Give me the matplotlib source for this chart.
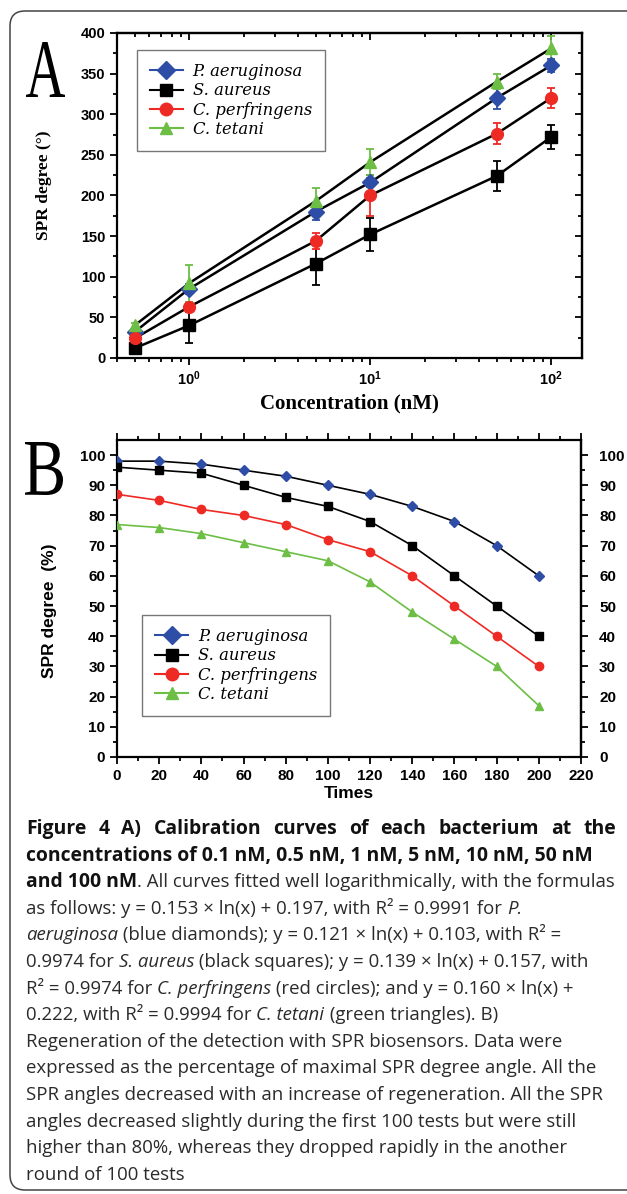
import numpy as np
import matplotlib
matplotlib.use("Agg")
import matplotlib.pyplot as plt
from matplotlib.lines import Line2D
from matplotlib.patches import FancyBboxPatch, PathPatch
from matplotlib.textpath import TextPath
from matplotlib.font_manager import FontProperties
from matplotlib.ticker import MultipleLocator, LogLocator, NullFormatter, FixedLocator, FixedFormatter
from matplotlib.transforms import Affine2D

# ---------------- data ----------------
species = ["P. aeruginosa", "S. aureus", "C. perfringens", "C. tetani"]
colors = ["#2E4DA6", "#000000", "#EE2A24", "#6CBE45"]
markers = ["D", "s", "o", "^"]

# Panel A: calibration curves
conc_nM = [0.5, 1, 5, 10, 50, 100]
spr_pa = [32, 85, 180, 216, 320, 360]
spr_sa = [12, 40, 116, 152, 224, 272]
spr_cp = [24, 63, 144, 200, 276, 320]
spr_ct = [40, 92, 193, 241, 340, 381]
err_pa = [3, 6, 10, 5, 14, 8]
err_sa = [3, 21, 26, 20, 18, 15]
err_cp = [3, 6, 10, 25, 13, 12]
err_ct = [3, 23, 16, 16, 9, 15]

# Panel B: regeneration
times = [0, 20, 40, 60, 80, 100, 120, 140, 160, 180, 200]
pct_pa = [98, 98, 97, 95, 93, 90, 87, 83, 78, 70, 60]
pct_sa = [96, 95, 94, 90, 86, 83, 78, 70, 60, 50, 40]
pct_cp = [87, 85, 82, 80, 77, 72, 68, 60, 50, 40, 30]
pct_ct = [77, 76, 74, 71, 68, 65, 58, 48, 39, 30, 17]
line_colors_B = ["#000000", "#000000", "#EE2A24", "#6CBE45"]

W, H = 627, 1194
DPI = 100
plt.rcParams['mathtext.fontset'] = 'custom'
plt.rcParams['mathtext.rm'] = 'Liberation Sans:bold'
plt.rcParams['mathtext.bf'] = 'Liberation Sans:bold'
plt.rcParams['mathtext.default'] = 'rm'

fig = plt.figure(figsize=(W / DPI, H / DPI), dpi=DPI)

def axrect(l, t, r, b):
    return [l / W, 1 - b / H, (r - l) / W, (b - t) / H]

legend_fp = FontProperties(family="DejaVu Serif", style="italic", size=11.8)
leg_kw = dict(borderaxespad=0, prop=legend_fp, frameon=True, fancybox=False,
              edgecolor="#555555", handlelength=2.0, handletextpad=0.6,
              labelspacing=0.14, borderpad=0.8)

def bold_sans(labels):
    for lab in labels:
        lab.set_fontfamily("Liberation Sans")
        lab.set_fontweight("bold")

# ---------------- Panel A ----------------
axA = fig.add_axes(axrect(117, 33, 582, 358))
axA.set_xscale("log")
A_vals = [spr_pa, spr_sa, spr_cp, spr_ct]
A_errs = [err_pa, err_sa, err_cp, err_ct]
msA = [8, 8, 8.5, 8.5]
for vals in A_vals:
    axA.plot(conc_nM, vals, color="black", lw=1.8, zorder=2)
for vals, errs, c in zip(A_vals, A_errs, colors):
    axA.errorbar(conc_nM, vals, yerr=errs, fmt="none", ecolor=c, elinewidth=1.3,
                 capsize=3, capthick=1.3, zorder=3)
for vals, c, m, ms in zip(A_vals, colors, markers, msA):
    axA.plot(conc_nM, vals, ls="none", marker=m, color=c, ms=ms, mec=c, zorder=4)
axA.set_xlim(0.4, 148)
axA.set_ylim(0, 400)
axA.yaxis.set_major_locator(MultipleLocator(50))
axA.yaxis.set_minor_locator(MultipleLocator(25))
axA.xaxis.set_major_locator(FixedLocator([1, 10, 100]))
axA.xaxis.set_major_formatter(FixedFormatter([r"$10^{0}$", r"$10^{1}$", r"$10^{2}$"]))
axA.xaxis.set_minor_locator(LogLocator(base=10, subs=np.arange(2, 10), numticks=20))
axA.xaxis.set_minor_formatter(NullFormatter())
axA.tick_params(which="both", direction="out", width=1.3, labelsize=10.5)
axA.tick_params(which="major", length=5)
axA.tick_params(which="minor", length=3)
bold_sans(axA.get_yticklabels() + axA.get_xticklabels())
for s in axA.spines.values():
    s.set_linewidth(1.6)
# inward ticks on top / right
secx = axA.secondary_xaxis("top")
secx.xaxis.set_major_locator(FixedLocator([1, 10, 100]))
secx.xaxis.set_minor_locator(LogLocator(base=10, subs=np.arange(2, 10), numticks=20))
secx.xaxis.set_major_formatter(NullFormatter())
secx.xaxis.set_minor_formatter(NullFormatter())
secx.tick_params(which="both", direction="in", width=1.3)
secx.tick_params(which="major", length=5)
secx.tick_params(which="minor", length=3)
secy = axA.secondary_yaxis("right")
secy.yaxis.set_major_locator(MultipleLocator(50))
secy.yaxis.set_minor_locator(MultipleLocator(25))
secy.yaxis.set_major_formatter(NullFormatter())
secy.tick_params(which="both", direction="in", width=1.3)
secy.tick_params(which="major", length=5)
secy.tick_params(which="minor", length=3)
secx.spines["top"].set_linewidth(1.6)
secy.spines["right"].set_linewidth(1.6)

axA.set_xlabel("Concentration (nM)", fontfamily="Liberation Serif", fontweight="bold",
               fontsize=15, labelpad=4)
axA.set_ylabel("SPR degree (°)", fontfamily="Liberation Serif", fontweight="bold",
               fontsize=12.5)
axA.yaxis.set_label_coords(-0.14, 0.53)

handlesA = [Line2D([], [], color=c, marker=m, ms=9, lw=1.5) for c, m in zip(colors, markers)]
legA = axA.legend(handlesA, species, loc="upper left", bbox_to_anchor=(0.043, 0.948), **leg_kw)
legA.get_frame().set_linewidth(1.0)

# ---------------- Panel B ----------------
axB = fig.add_axes(axrect(117, 440, 581, 757))
B_vals = [pct_pa, pct_sa, pct_cp, pct_ct]
for vals, c, lc, m in zip(B_vals, colors, line_colors_B, markers):
    axB.plot(times, vals, color=lc, lw=1.2, zorder=2)
    axB.plot(times, vals, ls="none", marker=m, color=c, mec=c,
             ms=6 if m != "D" else 5.5, zorder=3)
axB.set_xlim(0, 220)
axB.set_ylim(0, 105)
axB.xaxis.set_major_locator(MultipleLocator(20))
axB.xaxis.set_minor_locator(MultipleLocator(10))
axB.yaxis.set_major_locator(FixedLocator(np.arange(0, 101, 10)))
axB.yaxis.set_minor_locator(FixedLocator(np.arange(5, 101, 10)))
axB.tick_params(which="both", direction="out", width=1.3, top=True, labelsize=11)
axB.tick_params(which="major", length=5)
axB.tick_params(which="minor", length=3)
bold_sans(axB.get_yticklabels() + axB.get_xticklabels())
for s in axB.spines.values():
    s.set_linewidth(1.6)
secyB = axB.secondary_yaxis("right")
secyB.yaxis.set_major_locator(FixedLocator(np.arange(0, 101, 10)))
secyB.yaxis.set_minor_locator(FixedLocator(np.arange(5, 101, 10)))
secyB.tick_params(which="both", direction="out", width=1.3, labelsize=11)
secyB.tick_params(which="major", length=5, pad=8)
secyB.tick_params(which="minor", length=3)
secyB.spines["right"].set_linewidth(1.6)
bold_sans(secyB.get_yticklabels())

axB.set_xlabel("Times", fontfamily="Liberation Sans", fontweight="bold", fontsize=12.5, labelpad=2)
axB.set_ylabel("SPR degree  (%)", fontfamily="Liberation Sans", fontweight="bold", fontsize=12.5)
axB.yaxis.set_label_coords(-0.13, 0.46)

handlesB = [Line2D([], [], color=c, marker=m, ms=9, lw=1.5) for c, m in zip(colors, markers)]
legB = axB.legend(handlesB, species, loc="upper left", bbox_to_anchor=(0.054, 0.448), **leg_kw)
legB.get_frame().set_linewidth(1.0)

# ---------------- big panel letters ----------------
def big_letter(ch, x0, x1, ytop, ybot):
    fp = FontProperties(family="Liberation Serif")
    tp = TextPath((0, 0), ch, size=100, prop=fp)
    bb = tp.get_extents()
    sx = (x1 - x0) / bb.width / W
    sy = (ybot - ytop) / bb.height / H
    tr = Affine2D().translate(-bb.x0, -bb.y0).scale(sx, sy).translate(x0 / W, 1 - ybot / H)
    p = PathPatch(tr.transform_path(tp), transform=fig.transFigure, facecolor="black",
                  edgecolor="none")
    fig.add_artist(p)

big_letter("A", 26, 65, 42, 97)
big_letter("B", 25, 63, 442, 495)

# ---------------- frame ----------------
frame = FancyBboxPatch((10 / W, 1 - 1190 / H), 640 / W, (1190 - 11) / H,
                       boxstyle="round,pad=0,rounding_size=0.024",
                       mutation_aspect=W / H, transform=fig.transFigure,
                       facecolor="none", edgecolor="#444444", lw=1.1)
fig.add_artist(frame)

# ---------------- caption ----------------
renderer = fig.canvas.get_renderer()

def fp_of(style, size):
    if style == "b":
        return FontProperties(family="Open Sans", weight="bold", size=size)
    if style == "i":
        return FontProperties(family="Open Sans", style="italic", size=size)
    return FontProperties(family="Open Sans", size=size)

def width_px(s, fp):
    w1 = renderer.get_text_width_height_descent(s + "|", fp, ismath=False)[0]
    w2 = renderer.get_text_width_height_descent("|", fp, ismath=False)[0]
    return w1 - w2

ref_line = "Regeneration of the detection with SPR biosensors. Data were"
fs = 10 * 536 / width_px(ref_line, fp_of("r", 10))
ref_bold = "concentrations of 0.1 nM, 0.5 nM, 1 nM, 5 nM, 10 nM, 50 nM"
fs_b = 10 * 568 / width_px(ref_bold, fp_of("b", 10))
sizes = {"b": fs_b, "r": fs, "i": fs}

caption = [
    [("b", "Figure 4 A) Calibration curves of each bacterium at the")],
    [("b", "concentrations of 0.1 nM, 0.5 nM, 1 nM, 5 nM, 10 nM, 50 nM")],
    [("b", "and 100 nM"), ("r", ". All curves fitted well logarithmically, with the formulas")],
    [("r", "as follows: y = 0.153 \u00d7 ln(x) + 0.197, with R\u00b2 = 0.9991 for "), ("i", "P.")],
    [("i", "aeruginosa"), ("r", " (blue diamonds); y = 0.121 \u00d7 ln(x) + 0.103, with R\u00b2 =")],
    [("r", "0.9974 for "), ("i", "S. aureus"), ("r", " (black squares); y = 0.139 \u00d7 ln(x) + 0.157, with")],
    [("r", "R\u00b2 = 0.9974 for "), ("i", "C. perfringens"), ("r", " (red circles); and y = 0.160 \u00d7 ln(x) +")],
    [("r", "0.222, with R\u00b2 = 0.9994 for "), ("i", "C. tetani"), ("r", " (green triangles). B)")],
    [("r", "Regeneration of the detection with SPR biosensors. Data were")],
    [("r", "expressed as the percentage of maximal SPR degree angle. All the")],
    [("r", "SPR angles decreased with an increase of regeneration. All the SPR")],
    [("r", "angles decreased slightly during the first 100 tests but were still")],
    [("r", "higher than 80%, whereas they dropped rapidly in the another")],
    [("r", "round of 100 tests")],
]
cap_colors = {"b": "#111111", "r": "#2a2a2a", "i": "#2a2a2a"}
x_left, x_right = 26, 616
base0, dy = 834, 26.6
for i, segs in enumerate(caption):
    y = 1 - (base0 + i * dy) / H
    if i == 0:
        words = segs[0][1].split(" ")
        fp = fp_of("b", fs_b)
        ws = [width_px(w, fp) for w in words]
        gap = (x_right - x_left - sum(ws)) / (len(words) - 1)
        x = x_left
        for w, wpx in zip(words, ws):
            fig.text(x / W, y, w, fontproperties=fp, color=cap_colors["b"], va="baseline")
            x += wpx + gap
        continue
    x = x_left
    for style, s in segs:
        fp = fp_of(style, sizes[style])
        fig.text(x / W, y, s, fontproperties=fp, color=cap_colors[style], va="baseline")
        x += width_px(s, fp)

fig.savefig("out.png", dpi=DPI)
